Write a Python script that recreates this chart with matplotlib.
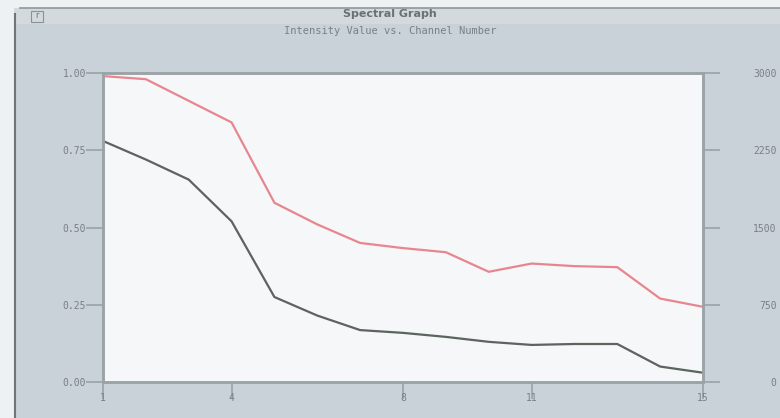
import numpy as np
import matplotlib
matplotlib.use("Agg")
import matplotlib.pyplot as plt
from matplotlib.patches import Rectangle

# data
channels = list(range(1, 16))
intensity = [0.78, 0.72, 0.655, 0.52, 0.275, 0.215, 0.168, 0.159, 0.146,
             0.13, 0.12, 0.123, 0.123, 0.05, 0.03]
counts = [2970, 2940, 2730, 2520, 1740, 1530, 1350, 1300, 1260,
          1070, 1150, 1125, 1115, 810, 730]
x_ticks = [1, 4, 8, 11, 15]
left_ticks = [0.0, 0.25, 0.5, 0.75, 1.0]
right_ticks = [0, 750, 1500, 2250, 3000]

W, H = 780, 418
bg = "#c9d2d8"
axis_col = "#9aa3a6"
text_col = "#7a8084"
mono = "DejaVu Sans Mono"

fig = plt.figure(figsize=(W / 100, H / 100), dpi=100, facecolor=bg)

# window frame pieces
fig.patches.append(Rectangle((0, 0), 14 / W, 1, transform=fig.transFigure,
                             facecolor="#eef1f3", edgecolor="none"))
fig.patches.append(Rectangle((0, 1 - 8 / H), 1, 8 / H, transform=fig.transFigure,
                             facecolor="#eef1f3", edgecolor="none"))
fig.patches.append(Rectangle((14 / W, 1 - 24 / H), 1, 16 / H, transform=fig.transFigure,
                             facecolor="#d3d9dc", edgecolor="none"))
fig.add_artist(plt.Line2D([15 / W, 15 / W], [0, 1 - 14 / H], transform=fig.transFigure,
                          color="#6e7579", lw=1.5))
fig.add_artist(plt.Line2D([20 / W, 1], [1 - 8 / H, 1 - 8 / H], transform=fig.transFigure,
                          color="#8f989c", lw=1.2))
fig.patches.append(Rectangle((31 / W, 1 - 22 / H), 12 / W, 11 / H, transform=fig.transFigure,
                             facecolor="none", edgecolor="#8a9296", lw=0.8))
fig.text(37 / W, 1 - 16 / H, "r", ha="center", va="center", fontsize=6, color="#707478")

fig.text(0.5, 1 - 14 / H, "Spectral Graph", ha="center", va="center",
         fontsize=8, fontweight="bold", color="#6a7074")
fig.text(0.5, 1 - 31 / H, "Intensity Value vs. Channel Number", ha="center", va="center",
         fontsize=7.5, family=mono, color=text_col)

ax = fig.add_axes([103 / W, (H - 382) / H, 600 / W, 309 / H])
ax.set_facecolor("#f5f7f8")
ax.plot(channels, intensity, color="#5c645e", lw=1.6)
ax.set_xlim(1, 15)
ax.set_ylim(0, 1)
ax.set_xticks(x_ticks)
ax.set_yticks(left_ticks)
ax.set_yticklabels([f"{v:.2f}" for v in left_ticks])
ax.tick_params(axis="both", colors=axis_col, labelcolor=text_col, labelsize=7,
               length=12, width=1.2, direction="out")
ax.tick_params(axis="y", pad=0)
ax.tick_params(axis="x", pad=-4)
for lab in ax.get_xticklabels() + ax.get_yticklabels():
    lab.set_family(mono)

ax2 = ax.twinx()
ax2.plot(channels, counts, color="#e8868f", lw=1.6)
ax2.set_ylim(0, 3000)
ax2.set_yticks(right_ticks)
ax2.tick_params(axis="y", colors=axis_col, labelcolor=text_col, labelsize=7,
                length=12, width=1.2, direction="out", pad=41)
for lab in ax2.get_yticklabels():
    lab.set_family(mono)
    lab.set_horizontalalignment("right")

for a in (ax, ax2):
    for s in a.spines.values():
        s.set_color(axis_col)
        s.set_linewidth(1.8)

fig.savefig("out.png", dpi=100, facecolor=bg)
